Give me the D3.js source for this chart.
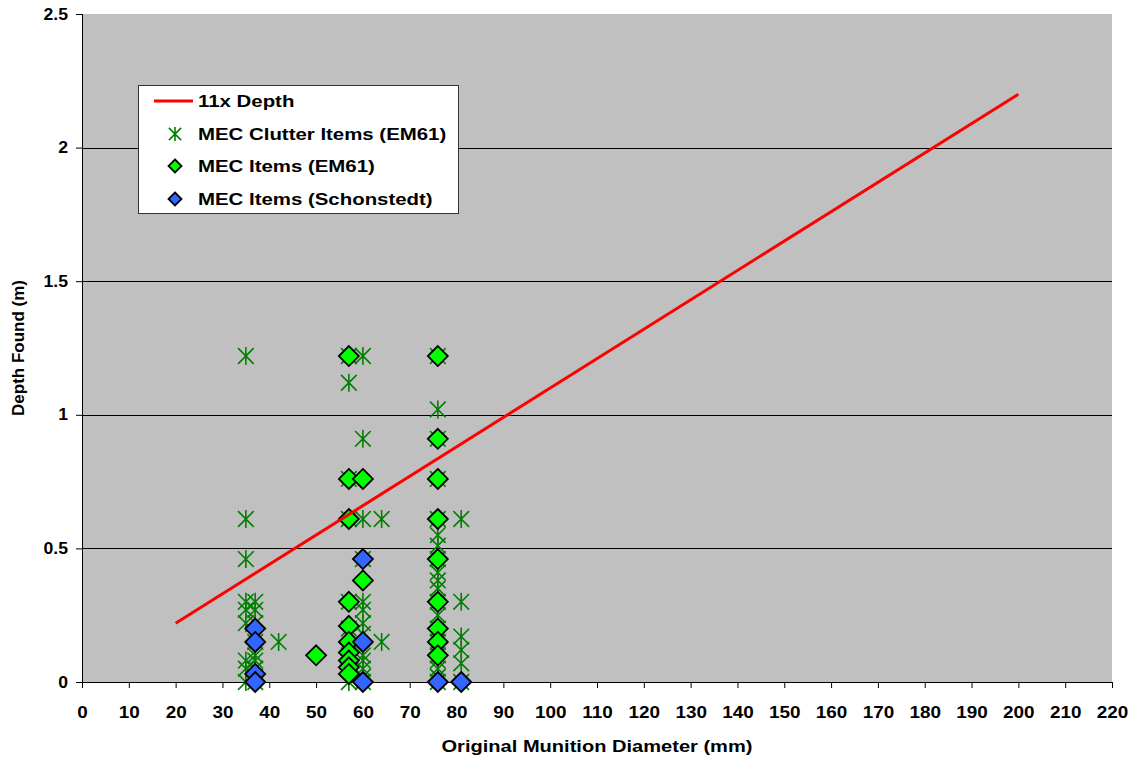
<!DOCTYPE html>
<html><head><meta charset="utf-8">
<script src="https://cdn.jsdelivr.net/npm/d3@7"></script>
<style>body{margin:0;background:#fff}svg{display:block}text{font-family:"Liberation Sans",Arial,sans-serif;font-weight:bold}</style>
</head><body><svg id="c" width="1132" height="761"></svg>
<script>
// Data (diameter mm, depth m)
const clutterX = [35,35,35,35,35,35,35,35,35, 37,37,37,37,37,37,37,37,37, 42,
  57,57,57,57,57,57,57,57,57, 60,60,60,60,60,60,60,60,60,60,60,60,60, 64,64,
  76,76,76,76,76,76,76,76,76,76,76,76,76,76,76,76,76,76,76,76, 81,81,81,81,81,81];
const clutterY = [1.22,0.61,0.46,0.30,0.27,0.22,0.08,0.05,0.0, 0.30,0.27,0.22,0.15,0.10,0.08,0.05,0.02,0.0, 0.15,
  1.22,1.12,0.76,0.61,0.30,0.20,0.10,0.05,0.0, 1.22,0.91,0.61,0.46,0.30,0.27,0.22,0.18,0.10,0.08,0.05,0.02,0.0, 0.61,0.15,
  1.22,1.02,0.91,0.76,0.61,0.55,0.51,0.46,0.41,0.38,0.35,0.30,0.25,0.20,0.15,0.10,0.08,0.05,0.02,0.0, 0.61,0.30,0.17,0.12,0.07,0.0];
const em61X = [50, 57,57,57,57,57,57,57,57,57,57, 60,60, 76,76,76,76,76,76,76,76,76];
const em61Y = [0.10, 1.22,0.76,0.61,0.30,0.21,0.15,0.11,0.08,0.055,0.03, 0.76,0.38, 1.22,0.91,0.76,0.61,0.46,0.30,0.20,0.15,0.10];
const schX = [37,37,37,37, 60,60,60, 76, 81];
const schY = [0.20,0.15,0.03,0.0, 0.46,0.15,0.0, 0.0, 0.0];
const lineX = [20, 200];
const lineY = [0.22, 2.20];
const xTicks = d3.range(0, 221, 10);
const yTicks = [0, 0.5, 1, 1.5, 2, 2.5];
const seriesNames = ["11x Depth", "MEC Clutter Items (EM61)", "MEC Items (EM61)", "MEC Items (Schonstedt)"];

const svg = d3.select("#c");
const L = 82, R = 1112, T = 14, B = 682;
const x = d3.scaleLinear().domain([0, 220]).range([L, R]);
const y = d3.scaleLinear().domain([0, 2.5]).range([B, T]);

function stretch(sel, k) {
  sel.each(function () {
    const w = this.getComputedTextLength();
    d3.select(this).attr("textLength", w * k).attr("lengthAdjust", "spacingAndGlyphs");
  });
}

svg.append("rect").attr("x", L).attr("y", T).attr("width", R - L).attr("height", B - T).attr("fill", "#C0C0C0");
// gridlines
svg.append("g").selectAll("line").data(yTicks.filter(d => d > 0 && d < 2.5)).join("line")
  .attr("x1", L).attr("x2", R).attr("y1", d => Math.round(y(d)) + 0.5).attr("y2", d => Math.round(y(d)) + 0.5)
  .attr("stroke", "#000").attr("stroke-width", 1);

// axes
const xAxis = d3.axisBottom(x).tickValues(xTicks).tickSize(6).tickPadding(24).tickFormat(d3.format("d"));
const gx = svg.append("g").attr("transform", `translate(0,${B})`).call(xAxis);
gx.select(".domain").attr("stroke", "#000").attr("d", `M${L},0.5H${R}`);
gx.selectAll("line").attr("stroke", "#000");
gx.selectAll("text").attr("font-size", 16).attr("fill", "#000").attr("dy", "0.36em");
stretch(gx.selectAll("text"), 1.18);

const yAxis = d3.axisLeft(y).tickValues(yTicks).tickSize(6).tickPadding(8).tickFormat(d => d);
const gy = svg.append("g").attr("transform", `translate(${L},0)`).call(yAxis);
gy.select(".domain").attr("stroke", "#000").attr("d", `M0.5,${T}V${B}`);
gy.selectAll("line").attr("stroke", "#000");
gy.selectAll("text").attr("font-size", 16).attr("fill", "#000");
stretch(gy.selectAll("text"), 1.1);

// axis titles
const xt = svg.append("text").attr("x", 597).attr("y", 752).attr("text-anchor", "middle").attr("font-size", 17).text("Original Munition Diameter (mm)");
stretch(xt, 1.18);
svg.append("text").attr("transform", `translate(24,${(T + B) / 2}) rotate(-90)`).attr("text-anchor", "middle").attr("font-size", 17).text("Depth Found (m)");

// markers
function star(g, cx, cy, r) {
  const p = `M${cx},${cy - r}V${cy + r}M${cx - r * 0.87},${cy - r * 0.87}L${cx + r * 0.87},${cy + r * 0.87}M${cx - r * 0.87},${cy + r * 0.87}L${cx + r * 0.87},${cy - r * 0.87}`;
  g.append("path").attr("d", p).attr("stroke", "#008000").attr("stroke-width", 1.6).attr("fill", "none");
}
function diamond(g, cx, cy, r, fill) {
  g.append("path").attr("d", `M${cx},${cy - r}L${cx + r},${cy}L${cx},${cy + r}L${cx - r},${cy}Z`)
    .attr("fill", fill).attr("stroke", "#000").attr("stroke-width", 1.8);
}
const gs = svg.append("g");
clutterX.forEach((d, i) => star(gs, x(d), y(clutterY[i]), 9));
const ge = svg.append("g");
em61X.forEach((d, i) => diamond(ge, x(d), y(em61Y[i]), 10, "#00FF00"));

// line
svg.append("line").attr("x1", x(lineX[0])).attr("y1", y(lineY[0])).attr("x2", x(lineX[1])).attr("y2", y(lineY[1]))
  .attr("stroke", "#FF0000").attr("stroke-width", 3);

const gb = svg.append("g");
schX.forEach((d, i) => diamond(gb, x(d), y(schY[i]), 10, "#3366FF"));

// legend
const lg = svg.append("g");
lg.append("rect").attr("x", 138.5).attr("y", 85.5).attr("width", 320).attr("height", 128).attr("fill", "#fff").attr("stroke", "#333").attr("stroke-width", 1);
const rows = [101, 134, 166, 199];
lg.append("line").attr("x1", 154).attr("x2", 193).attr("y1", rows[0]).attr("y2", rows[0]).attr("stroke", "#FF0000").attr("stroke-width", 3);
star(lg, 175, rows[1], 7);
diamond(lg, 175, rows[2], 6.5, "#00FF00");
diamond(lg, 175, rows[3], 6.5, "#3366FF");
const lt = lg.selectAll("text.lt").data(seriesNames).join("text").attr("class", "lt")
  .attr("x", 198).attr("y", (d, i) => rows[i]).attr("dy", "0.36em").attr("font-size", 17).text(d => d);
stretch(lt, 1.2);
</script></body></html>
